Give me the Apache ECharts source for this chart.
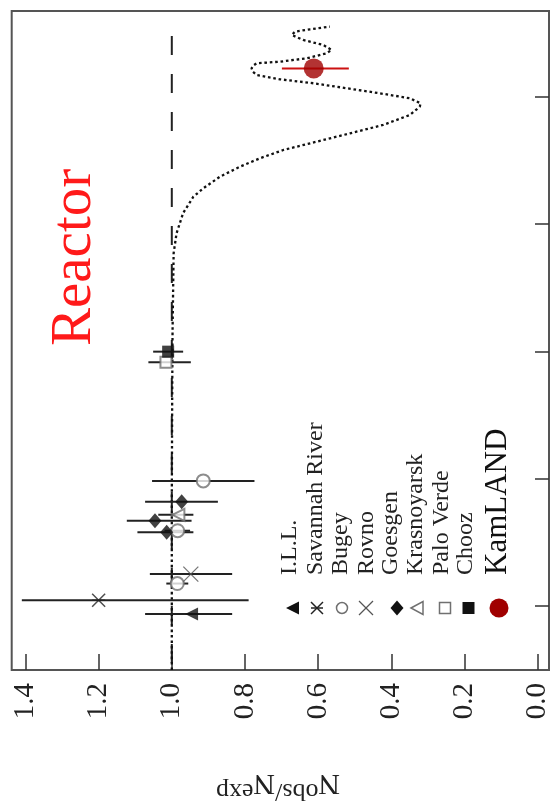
<!DOCTYPE html>
<html>
<head>
<meta charset="utf-8">
<script src="https://cdn.jsdelivr.net/npm/echarts@6/dist/echarts.min.js"></script>
<style>html,body{margin:0;padding:0;background:#fff}#c{width:556px;height:809px}</style>
</head>
<body>
<div id="c"></div>
<script>
// ---- data (distance in m, Nobs/Nexp) ----
const curveDist = [3.14, 11, 68, 415, 1400, 5900, 8470, 12200, 16400, 19100, 23600, 28200, 32900, 38200, 44400, 51600, 60100, 72000, 83600, 88900, 97300, 106500, 116700, 127700, 137200, 148300, 157000, 167400, 176000, 183300, 188800, 200600, 219600, 233300, 255400, 279500, 306100, 325100, 339000, 355600];
const curveVal  = [1.0, 1.0, 1.0, 0.999, 0.998, 0.995, 0.987, 0.969, 0.941, 0.914, 0.868, 0.814, 0.759, 0.695, 0.604, 0.513, 0.422, 0.349, 0.322, 0.320, 0.349, 0.431, 0.522, 0.613, 0.704, 0.768, 0.778, 0.782, 0.777, 0.768, 0.704, 0.631, 0.577, 0.563, 0.586, 0.641, 0.672, 0.663, 0.622, 0.568];
const noOscDist = [300000, 3.14];
const noOscVal  = [1.0, 1.0];

const illDist = [8.65],  illVal = [0.946], illLo = [0.835], illHi = [1.073];
const savDist = [11.1],  savVal = [1.200], savLo = [0.790], savHi = [1.410];
const bugDist = [15, 39, 96], bugVal = [0.985, 0.984, 0.914], bugLo = [0.955, 0.950, 0.774], bugHi = [1.015, 1.020, 1.054];
const rovDist = [17.8],  rovVal = [0.948], rovLo = [0.835], rovHi = [1.060];
const goeDist = [38, 46.8, 66], goeVal = [1.014, 1.046, 0.973], goeLo = [0.941, 0.946, 0.874], goeHi = [1.094, 1.123, 1.073];
const kraDist = [52],    kraVal = [0.982], kraLo = [0.941], kraHi = [1.037];
const palDist = [820],   palVal = [1.016], palLo = [0.948], palHi = [1.064];
const choDist = [995],   choVal = [1.010], choLo = [0.969], choHi = [1.051];
const kamDist = [167000], kamVal = [0.612], kamLo = [0.516], kamHi = [0.699];

const xTickLabels = ['0.0','0.2','0.4','0.6','0.8','1.0','1.2','1.4'];
const legendNames = ['I.L.L.','Savannah River','Bugey','Rovno','Goesgen','Krasnoyarsk','Palo Verde','Chooz','KamLAND'];

// ---- helpers ----
function pts(d, v) { return d.map((x, i) => [v[i], x]); }
function errs(d, v, lo, hi) { return d.map((x, i) => [v[i], x, lo[i], hi[i]]); }
const allErr = [].concat(
  errs(illDist, illVal, illLo, illHi), errs(savDist, savVal, savLo, savHi),
  errs(bugDist, bugVal, bugLo, bugHi), errs(rovDist, rovVal, rovLo, rovHi),
  errs(goeDist, goeVal, goeLo, goeHi), errs(kraDist, kraVal, kraLo, kraHi),
  errs(palDist, palVal, palLo, palHi), errs(choDist, choVal, choLo, choHi));

function errSeries(data, color) {
  return {
    type: 'custom', xAxisIndex: 0, yAxisIndex: 0, silent: true, z: 3,
    encode: { x: 0, y: 1 },
    data: data,
    renderItem: function (params, api) {
      const d = api.value(1);
      const p1 = api.coord([api.value(2), d]);
      const p2 = api.coord([api.value(3), d]);
      return { type: 'line', shape: { x1: p1[0], y1: p1[1], x2: p2[0], y2: p2[1] },
               style: { stroke: color, lineWidth: 2 } };
    }
  };
}
function sc(data, symbol, size, style, rot) {
  return { type: 'scatter', xAxisIndex: 0, yAxisIndex: 0, silent: true, z: 5,
           symbol: symbol, symbolSize: size, symbolRotate: rot || 0,
           itemStyle: style, data: data };
}
const GRAY = '#707070', BLK = '#111';
const SERIF = '"Liberation Serif", "DejaVu Serif", serif';
const TICK = { color: '#333', width: 1.5 };

const chart = echarts.init(document.getElementById('c'), null, { renderer: 'canvas' });
const option = {
  animation: false,
  backgroundColor: '#fff',
  grid: [
    { left: 11.7, right: 7, top: 11, bottom: 139, show: true, borderColor: '#555', borderWidth: 2, backgroundColor: 'transparent' },
    { left: 25.5, right: 18.4, top: 11, bottom: 139 },
    { left: 11.7, right: 7, top: 96.8, bottom: 203 }
  ],
  xAxis: [
    { gridIndex: 0, type: 'value', inverse: true, min: -0.0312, max: 1.4377, show: false },
    { gridIndex: 1, type: 'value', inverse: true, min: 0, max: 1.4, interval: 0.2, position: 'bottom',
      axisLine: { show: false, onZero: false }, splitLine: { show: false },
      axisTick: { show: true, inside: true, length: 16, lineStyle: TICK },
      axisLabel: { rotate: 90, margin: 13, fontSize: 29, fontFamily: SERIF, color: '#222',
                   formatter: v => xTickLabels[Math.round(v / 0.2)] } },
    { gridIndex: 2, type: 'value', min: 0, max: 1, show: false }
  ],
  yAxis: [
    { gridIndex: 0, type: 'log', logBase: 10, min: 3.14, max: 472000, show: false },
    { gridIndex: 1, type: 'value', min: 0, max: 1, show: false },
    { gridIndex: 2, type: 'log', logBase: 10, min: 10, max: 100000, position: 'right',
      axisLine: { show: false, onZero: false }, splitLine: { show: false }, axisLabel: { show: false },
      axisTick: { show: true, inside: true, length: 14, lineStyle: TICK },
      minorTick: { show: false } }
  ],
  series: [
    { type: 'line', xAxisIndex: 0, yAxisIndex: 0, silent: true, showSymbol: false, z: 1,
      data: pts(noOscDist, noOscVal), lineStyle: { color: '#222', width: 2, type: [19, 19] } },
    { type: 'line', xAxisIndex: 0, yAxisIndex: 0, silent: true, showSymbol: false, z: 2,
      data: pts(curveDist, curveVal), lineStyle: { color: '#111', width: 2.3, type: [2.6, 2.8] } },
    errSeries(allErr, '#222'),
    errSeries(errs(kamDist, kamVal, kamLo, kamHi), '#cc1111'),
    sc(pts(illDist, illVal), 'triangle', 13, { color: BLK }, 90),
    sc(pts(savDist, savVal), 'path://M0,0L10,10M10,0L0,10M0,5L10,5', 13, { color: 'none', borderColor: '#222', borderWidth: 1.5 }),
    sc(pts(bugDist, bugVal), 'emptyCircle', 13, { color: GRAY, borderWidth: 1.5 }),
    sc(pts(rovDist, rovVal), 'path://M0,0L10,10M10,0L0,10', 15, { color: 'none', borderColor: '#555', borderWidth: 1.3 }),
    sc(pts(goeDist, goeVal), 'diamond', [13, 15], { color: BLK }),
    sc(pts(kraDist, kraVal), 'emptyTriangle', 12, { color: GRAY, borderWidth: 1.5 }, 90),
    sc(pts(palDist, palVal), 'emptyRect', 11, { color: GRAY, borderWidth: 1.5 }),
    sc(pts(choDist, choVal), 'rect', 12, { color: BLK }),
    sc(pts(kamDist, kamVal), 'circle', 20, { color: '#a00000' })
  ],
  graphic: []
};

// legend (rotated text, read bottom-to-top)
const legX = [290, 316, 341, 367, 391, 416, 442, 466, 498];
const g = [];
legendNames.forEach((n, i) => {
  const big = n === 'KamLAND';
  g.push({ type: 'text', x: legX[i], y: 575, rotation: Math.PI / 2, silent: true,
           style: { text: n, font: (big ? 31 : 24) + 'px ' + SERIF, fill: big ? '#111' : '#222',
                    align: 'left', verticalAlign: 'middle' } });
});
const sy = 608;
function seg(x1, y1, x2, y2, c, w) {
  return { type: 'line', silent: true, shape: { x1: x1, y1: y1, x2: x2, y2: y2 }, style: { stroke: c, lineWidth: w } };
}
g.push({ type: 'polygon', shape: { points: [[286, sy], [299, sy - 6.5], [299, sy + 6.5]] }, style: { fill: BLK } });
g.push(seg(311, 602, 323, 614, '#222', 1.5), seg(323, 602, 311, 614, '#222', 1.5), seg(311, 608, 323, 608, '#222', 1.5));
g.push({ type: 'circle', shape: { cx: 342, cy: sy, r: 5.5 }, style: { fill: '#fff', stroke: GRAY, lineWidth: 1.5 } });
g.push(seg(359, 601, 373, 615, '#555', 1.3), seg(373, 601, 359, 615, '#555', 1.3));
g.push({ type: 'polygon', shape: { points: [[397, sy - 7.5], [403.5, sy], [397, sy + 7.5], [390.5, sy]] }, style: { fill: BLK } });
g.push({ type: 'polygon', shape: { points: [[411, sy], [423, sy - 6.5], [423, sy + 6.5]] }, style: { fill: '#fff', stroke: GRAY, lineWidth: 1.5 } });
g.push({ type: 'rect', shape: { x: 439.5, y: sy - 5.5, width: 11, height: 11 }, style: { fill: '#fff', stroke: GRAY, lineWidth: 1.5 } });
g.push({ type: 'rect', shape: { x: 462.5, y: sy - 6, width: 12, height: 12 }, style: { fill: BLK } });
g.push({ type: 'circle', shape: { cx: 499, cy: sy, r: 9.5 }, style: { fill: '#a00000' } });

// "Reactor"
g.push({ type: 'text', x: 75, y: 346, rotation: Math.PI / 2, silent: true,
         style: { text: 'Reactor', font: '57px ' + SERIF, fill: '#ff1a1a', align: 'left', verticalAlign: 'middle' } });
// axis name, upside down
g.push({ type: 'text', x: 278, y: 786, rotation: Math.PI, silent: true,
         style: { text: '{a|N}{b|obs}{b|/}{a|N}{b|exp}', align: 'center', verticalAlign: 'middle',
                  rich: { a: { font: '30px ' + SERIF, fill: '#222', verticalAlign: 'bottom', lineHeight: 36 },
                          b: { font: '26px ' + SERIF, fill: '#222', verticalAlign: 'top', lineHeight: 36 } } } });
option.graphic = g;
chart.setOption(option);
</script>
</body>
</html>
